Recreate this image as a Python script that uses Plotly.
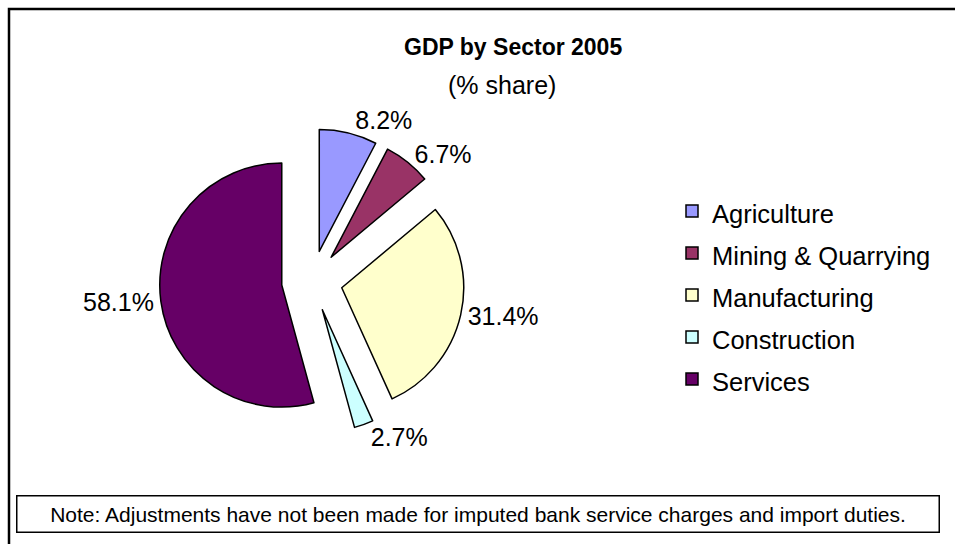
import plotly.graph_objects as go

# ---- data ----
sectors = ["Agriculture", "Mining & Quarrying", "Manufacturing", "Construction", "Services"]
shares = [8.2, 6.7, 31.4, 2.7, 58.1]
colors = ["#9999FF", "#993366", "#FFFFCC", "#CCFFFF", "#660066"]
title_text = "GDP by Sector 2005"
subtitle_text = "(% share)"
note_text = "Note: Adjustments have not been made for imputed bank service charges and import duties."

W, H = 955, 544
FONT = "Liberation Sans, Arial, sans-serif"

legend_labels = ['<span style="font-size:25.5px">%s</span>' % s for s in sectors]

cx, cy, half = 312, 281, 152.5

fig = go.Figure(
    go.Pie(
        labels=legend_labels,
        values=shares,
        sort=False,
        direction="clockwise",
        rotation=0,
        pull=[0.25] * len(shares),
        marker=dict(colors=colors, line=dict(color="black", width=1.5)),
        texttemplate="%{value:.1f}%",
        textposition="outside",
        textfont=dict(size=25, color="black", family=FONT),
        hovertemplate="%{label}: %{value:.1f}%<extra></extra>",
        domain=dict(x=[(cx - half) / W, (cx + half) / W],
                    y=[1 - (cy + half) / H, 1 - (cy - half) / H]),
    )
)

fig.update_layout(
    width=W,
    height=H,
    margin=dict(l=0, r=0, t=0, b=0),
    paper_bgcolor="white",
    plot_bgcolor="white",
    font=dict(family=FONT, color="black"),
    showlegend=True,
    legend=dict(
        x=672 / W,
        xanchor="left",
        y=1 - 295 / H,
        yanchor="middle",
        font=dict(size=30, color="black", family=FONT),
        bgcolor="rgba(0,0,0,0)",
    ),
    annotations=[
        dict(text="<b>%s</b>" % title_text, x=513 / W, y=1 - 47 / H, xref="paper", yref="paper",
             xanchor="center", yanchor="middle", showarrow=False, font=dict(size=23, family=FONT)),
        dict(text=subtitle_text, x=502 / W, y=1 - 85 / H, xref="paper", yref="paper",
             xanchor="center", yanchor="middle", showarrow=False, font=dict(size=25, family=FONT)),
        dict(text=note_text, x=478.5 / W, y=1 - 513.5 / H, xref="paper", yref="paper",
             xanchor="center", yanchor="middle", showarrow=False, font=dict(size=21, family=FONT),
             width=921, height=35, bordercolor="black", borderwidth=1.5, borderpad=0, bgcolor="white"),
    ],
    shapes=[
        dict(type="rect", xref="paper", yref="paper", x0=9 / W, x1=1.02, y0=-0.02, y1=1 - 9 / H,
             line=dict(color="black", width=2.5), layer="below"),
    ],
)

fig.write_html("out.html")
